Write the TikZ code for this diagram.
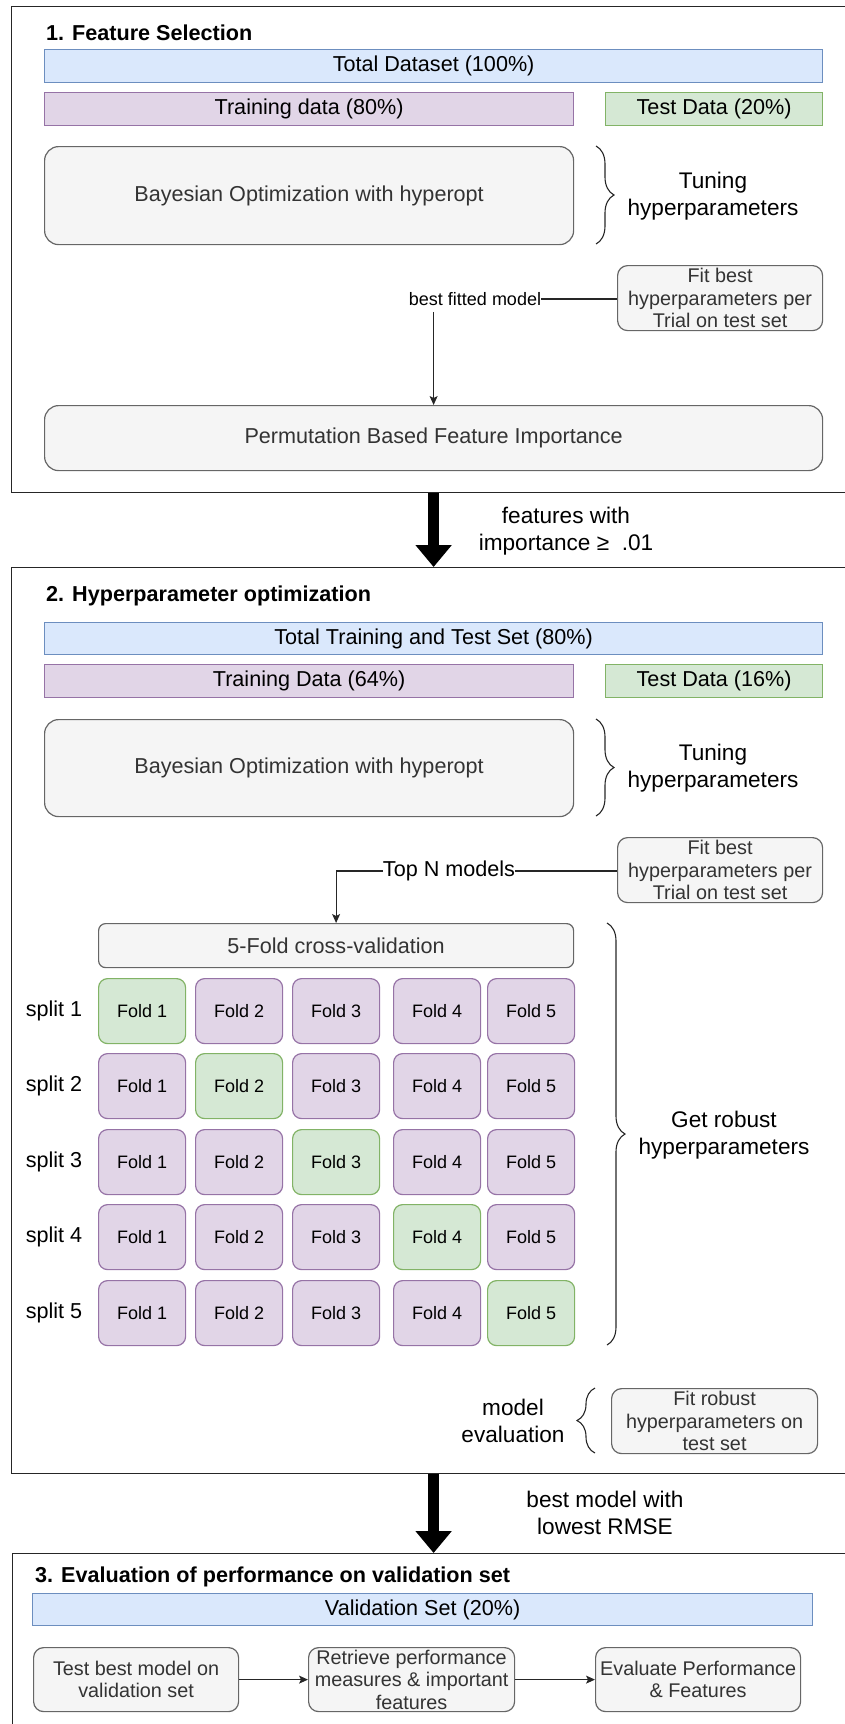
\documentclass[tikz,border=0pt]{standalone}
\usepackage{fontspec}
\setmainfont{Liberation Sans}
\usetikzlibrary{arrows.meta,decorations.pathreplacing}
\definecolor{blueF}{HTML}{DAE8FC}\definecolor{blueD}{HTML}{6C8EBF}
\definecolor{purpF}{HTML}{E1D5E7}\definecolor{purpD}{HTML}{9673A6}
\definecolor{greenF}{HTML}{D5E8D4}\definecolor{greenD}{HTML}{82B366}
\definecolor{greyF}{HTML}{F5F5F5}\definecolor{greyD}{HTML}{666666}
\definecolor{greyT}{HTML}{333333}
\newcommand{\myfsA}{\fontsize{21.6}{26}\selectfont}
\newcommand{\myfsB}{\fontsize{19.8}{22.5}\selectfont}
\newcommand{\myfsC}{\fontsize{18}{21}\selectfont}
\newcommand{\myfsD}{\fontsize{22.6}{27.5}\selectfont}
\tikzset{
  outerbox/.style={draw=black!85, line width=1.3pt, anchor=north west, inner sep=0pt},
  shp/.style={line width=1.2pt, inner sep=0pt, anchor=north west, align=center},
  bluebar/.style={shp, draw=blueD, fill=blueF, font=\myfsA},
  purpbar/.style={shp, draw=purpD, fill=purpF, font=\myfsA},
  greenbar/.style={shp, draw=greenD, fill=greenF, font=\myfsA},
  greybox/.style={shp, draw=greyD, fill=greyF, text=greyT, rounded corners=10pt, font=\myfsB},
  bigbox/.style={shp, draw=greyD, fill=greyF, text=greyT, rounded corners=14pt, font=\myfsA},
  fold/.style={shp, rounded corners=9pt, font=\myfsC, minimum width=87pt, minimum height=65pt},
  title/.style={anchor=west, inner sep=0pt, font=\bfseries\myfsA},
  lbl/.style={inner sep=0pt, align=center, font=\myfsD},
  brc/.style={decorate, decoration={brace, amplitude=18pt}, line width=1.1pt, draw=black!85},
  conn/.style={line width=1.1pt, draw=black!85},
  arr/.style={conn, -{Stealth[length=9pt,width=8pt,inset=2pt]}},
  fat/.style={line width=11pt, -{Triangle[length=22pt,width=35pt]}},
}
\begin{document}
\begin{tikzpicture}[x=1pt, y=-1pt]
\useasboundingbox (0,0) rectangle (844,1724);
% ---------- Box 1 ----------
\node[outerbox, minimum width=850pt, minimum height=486pt] (box1) at (11,6) {};
\node[title] (t1) at (46,33) {1. Feature Selection};
\node[bluebar, minimum width=778pt, minimum height=33pt] (td) at (44,49) {Total Dataset (100\%)};
\node[purpbar, minimum width=529pt, minimum height=33pt] (tr1) at (44,92) {Training data (80\%)};
\node[greenbar, minimum width=217pt, minimum height=33pt] (te1) at (605,92) {Test Data (20\%)};
\node[bigbox, minimum width=529pt, minimum height=98pt] (bo1) at (44,146) {Bayesian Optimization with hyperopt};
\draw[brc] (596,146) -- (596,244);
\node[lbl] (tune1) at (713,196) {Tuning\\hyperparameters};
\node[greybox, minimum width=205pt, minimum height=65pt] (fb1) at (617,265) {Fit best\\hyperparameters per\\Trial on test set};
\node[inner sep=0pt, font=\myfsC] (bfm) at (475,299) {best fitted model};
\node[bigbox, minimum width=778pt, minimum height=65pt] (perm) at (44,405) {Permutation Based Feature Importance};
\draw[conn] (bfm.east) -- (bfm.east -| fb1.west);
\draw[arr] ([yshift=-6pt]bfm.south -| perm.north) -- (perm.north);
% ---------- arrow 1 ----------
\node[outerbox, minimum width=850pt, minimum height=906pt] (box2) at (11,567) {};
\draw[fat] (box1.south -| perm.north) -- (box2.north -| perm.north);
\node[lbl] (feat) at (566,531) {features with\\importance ≥\ \ .01};
% ---------- Box 2 ----------
\node[title] (t2) at (46,596) {2. Hyperparameter optimization};
\node[bluebar, minimum width=778pt, minimum height=32pt] (tt2) at (44,622) {Total Training and Test Set (80\%)};
\node[purpbar, minimum width=529pt, minimum height=33pt] (tr2) at (44,664) {Training Data (64\%)};
\node[greenbar, minimum width=217pt, minimum height=33pt] (te2) at (605,664) {Test Data (16\%)};
\node[bigbox, minimum width=529pt, minimum height=97pt] (bo2) at (44,719) {Bayesian Optimization with hyperopt};
\draw[brc] (596,719) -- (596,816);
\node[lbl] (tune2) at (713,768) {Tuning\\hyperparameters};
\node[greybox, minimum width=205pt, minimum height=65pt] (fb2) at (617,837) {Fit best\\hyperparameters per\\Trial on test set};
\node[inner sep=0pt, font=\myfsA] (topn) at (449,871) {Top N models};
\node[shp, draw=greyD, fill=greyF, text=greyT, rounded corners=7pt, font=\myfsA, minimum width=475pt, minimum height=44pt] (cv) at (98,923) {5-Fold cross-validation};
\draw[conn] (topn.east) -- (topn.east -| fb2.west);
\draw[arr] (topn.west) -| (cv.north);
\foreach \r/\yy in {1/978,2/1053,3/1129,4/1204,5/1280} {
  \node[inner sep=0pt, font=\myfsA] (s\r) at (54,\yy+32.5) {split \r};
  \foreach \c/\xx in {1/98,2/195,3/292,4/393,5/487} {
    \ifnum\r=\c \def\fc{greenF}\def\dc{greenD}\else\def\fc{purpF}\def\dc{purpD}\fi
    \node[fold, fill=\fc, draw=\dc] (f\r\c) at (\xx,\yy) {Fold \c};
  }
}
\draw[brc] (607,923) -- (607,1345);
\node[lbl] (robust) at (724,1135) {Get robust\\hyperparameters};
\node[lbl] (meval) at (513,1421) {model\\evaluation};
\draw[brc] (595,1453) -- (595,1388);
\node[greybox, minimum width=206pt, minimum height=65pt] (fr) at (611,1388) {Fit robust\\hyperparameters on\\test set};
% ---------- arrow 2 ----------
\node[outerbox, minimum width=850pt, minimum height=190pt] (box3) at (12,1553) {};
\draw[fat] (box2.south -| perm.north) -- (box3.north -| perm.north);
\node[lbl] (bestm) at (605,1513) {best model with\\lowest RMSE};
% ---------- Box 3 ----------
\node[title] (t3) at (35,1577) {3. Evaluation of performance on validation set};
\node[bluebar, minimum width=780pt, minimum height=32pt] (val) at (32,1593) {Validation Set (20\%)};
\node[greybox, minimum width=205pt, minimum height=64pt] (ba) at (33,1647) {Test best model on\\validation set};
\node[greybox, minimum width=206pt, minimum height=64pt] (bb) at (308,1647) {Retrieve performance\\measures \& important\\features};
\node[greybox, minimum width=205pt, minimum height=64pt] (bc) at (595,1647) {Evaluate Performance\\\& Features};
\draw[arr] (ba.east) -- (ba.east -| bb.west);
\draw[arr] (bb.east) -- (bb.east -| bc.west);
\end{tikzpicture}
\end{document}
